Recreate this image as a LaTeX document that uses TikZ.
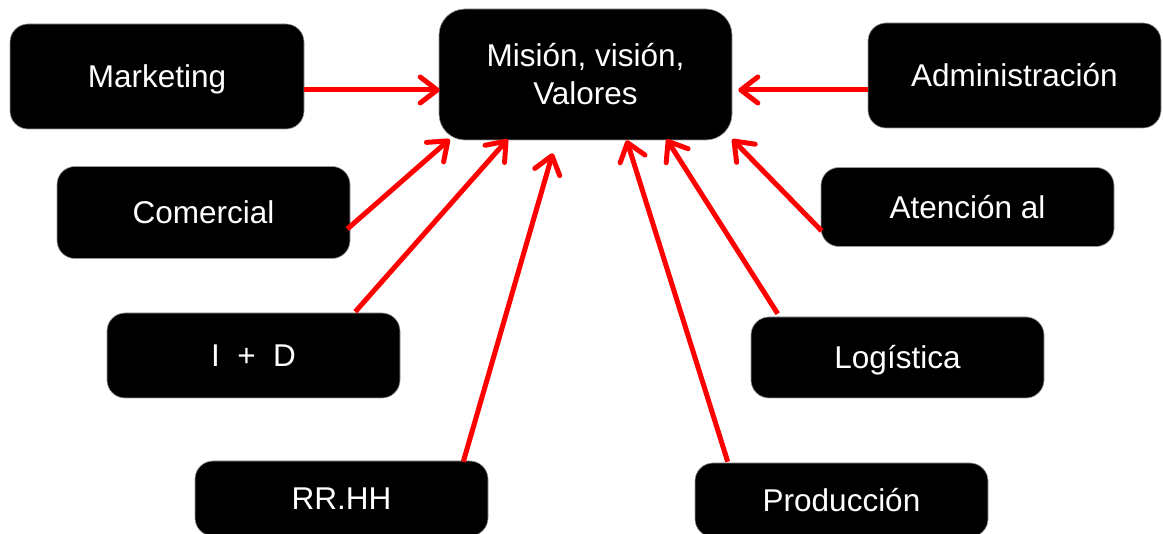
\documentclass[tikz,border=0pt]{standalone}
\usepackage{fontspec}
\setmainfont{Liberation Sans}
\usetikzlibrary{arrows.meta}
\begin{document}
\begin{tikzpicture}[x=1pt,y=-1pt,
  box/.style={fill=black,draw=black!40,line width=0.6pt,rounded corners=18pt,
    minimum width=293pt,inner sep=0pt,text=white,align=center,
    text height=22.6pt,text depth=0pt,
    font=\fontsize{31.5pt}{36pt}\selectfont},
  link/.style={draw=red,line width=5pt,-{Straight Barb[length=17pt,width=26pt,round]}}]
\useasboundingbox (0,0) rectangle (1163,534);
\node[box,minimum width=294pt,minimum height=105pt] (mk) at (157,76.5) {Marketing};
\node[box,minimum height=105pt] (adm) at (1014.5,75.5) {Administración};
\node[box,minimum height=131pt,rounded corners=26pt,text height=60.6pt,
  font=\fontsize{31.5pt}{38pt}\selectfont] (ctr) at (585.5,74.5) {Misión, visión,\\Valores};
\node[box,minimum height=92pt] (com) at (203.5,212.5) {Comercial};
\node[box,minimum height=79pt] (ate) at (967.5,207) {Atención al};
\node[box,minimum height=85pt] (id) at (253.5,355.5) {I\ \ +\ \ D};
\node[box,minimum height=81pt] (log) at (897.5,357.5) {Logística};
\node[box,minimum height=75pt] (rr) at (341.5,498.5) {RR.HH};
\node[box,minimum height=74pt] (pro) at (841.5,500) {Producción};
\draw[link] ([yshift=-13.5pt]mk.east) -- ([xshift=1pt,yshift=-15.5pt]ctr.west);
\draw[link] ([yshift=-14.5pt]adm.west) -- ([xshift=6pt,yshift=-15.5pt]ctr.east);
\draw[link] ([xshift=-3pt,yshift=-16.5pt]com.east) -- ([xshift=11pt,yshift=1pt]ctr.south west);
\draw[link] ([xshift=-45pt,yshift=1pt]id.north east) -- ([xshift=69pt,yshift=1pt]ctr.south west);
\draw[link] ([xshift=-25pt,yshift=-1pt]rr.north east) -- ([xshift=114pt,yshift=-13pt]ctr.south west);
\draw[link] ([xshift=33pt,yshift=1pt]pro.north west) -- ([xshift=188pt]ctr.south west);
\draw[link] ([xshift=27pt,yshift=3pt]log.north west) -- ([xshift=228pt,yshift=1pt]ctr.south west);
\draw[link] ([xshift=1pt,yshift=-24pt]ate.west) -- ([yshift=1pt]ctr.south east);
\end{tikzpicture}
\end{document}
